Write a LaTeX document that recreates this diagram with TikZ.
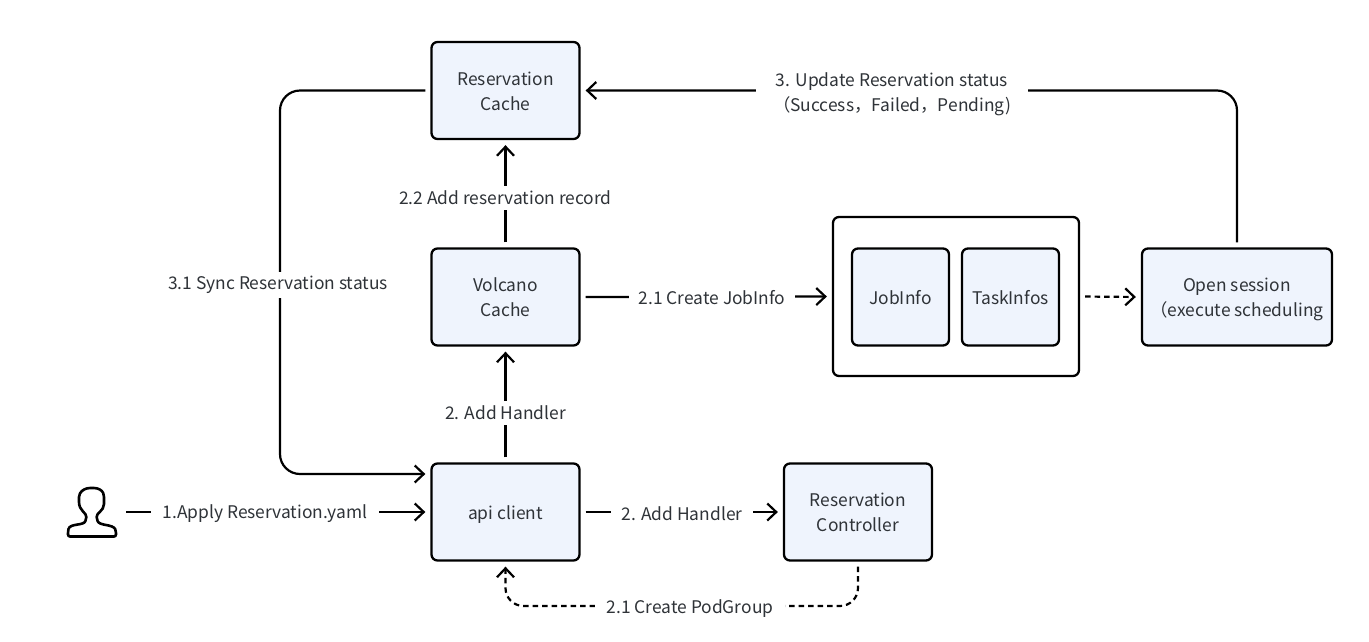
\documentclass[tikz,border=0pt]{standalone}
\usepackage{fontspec}
\setmainfont{Noto Sans CJK SC}
\usetikzlibrary{arrows.meta}
\definecolor{boxfill}{HTML}{EFF4FD}
\definecolor{txt}{HTML}{2F3338}
\tikzset{
  base/.style={font=\fontsize{17.4}{25}\selectfont,text=txt,align=center},
  box/.style={base,draw=black,line width=2.3pt,fill=boxfill,rounded corners=6pt,minimum width=148pt,minimum height=97pt,inner sep=0pt,text height=18pt,text depth=4pt},
  twoline/.style={text height=43pt,text depth=4pt},
  smallbox/.style={box,minimum width=97pt},
  outerbox/.style={draw=black,line width=2.3pt,fill=white,rounded corners=6pt,minimum width=246pt,minimum height=159pt,inner sep=0pt},
  conn/.style={draw=black,line width=2.2pt,shorten >=5pt,shorten <=5pt,-{Straight Barb[length=9pt,width=17pt,line width=2.2pt]}},
  dashline/.style={dash pattern=on 5.5pt off 4pt},
  lab/.style={base,fill=white,inner xsep=12pt,inner ysep=2pt},
}
\begin{document}
\begin{tikzpicture}[x=1pt,y=-1pt]
\useasboundingbox (0,0) rectangle (1369,641);
\node[box,twoline] (rc) at (505.5,90.5) {Reservation\\Cache};
\node[box,twoline] (vc) at (505.5,297) {Volcano\\Cache};
\node[box] (api) at (505.5,512) {api client};
\node[box,twoline] (ctrl) at (858,512) {Reservation\\Controller};
\node[outerbox] (job) at (956,296.5) {};
\node[smallbox] (ji) at (900.5,297) {JobInfo};
\node[smallbox] (ti) at (1010.5,297) {TaskInfos};
\node[box,twoline,minimum width=190pt] (os) at (1237,297) {Open session\\（execute scheduling};
\coordinate (user) at (121,512);
\coordinate (lx) at (280,0);
\coordinate (bot) at (0,606);
\coordinate (apin) at ([yshift=38pt]api.west);
% user icon
\draw[black,line width=2.6pt,line join=round,rounded corners=2pt]
  (68,536.5) -- (68,531) .. controls (70,523) and (84,526) .. (86,519)
  .. controls (87,513) and (79,511) .. (79,500) -- (79,495)
  .. controls (82,490) and (86,488) .. (92,488) .. controls (98,488) and (102,490) .. (104,495)
  -- (104,502) .. controls (104,511) and (96,513) .. (97,519)
  .. controls (99,526) and (113,524) .. (116,531) -- (116,536.5) -- cycle;
% connectors
\path[conn] (user) -- (api.west);
\path[conn] (api.north) -- (vc.south);
\path[conn] (vc.north) -- (rc.south);
\path[conn] (vc.east) -- (job.west);
\path[conn,dashline] (job.east) -- (os.west);
\path[conn] (api.east) -- (ctrl.west);
\path[conn,rounded corners=20pt] (os.north) -- (os.north |- rc.east) -- (rc.east);
\path[conn,rounded corners=20pt] (rc.west) -- (lx |- rc.west) -- (lx |- apin) -- (apin);
\path[conn,dashline,rounded corners=18pt] (ctrl.south) -- (ctrl.south |- bot) -- (api.south |- bot) -- (api.south);
% labels
\node[lab] (l1) at (265,514) {1.Apply Reservation.yaml};
\node[lab,inner xsep=6pt,inner ysep=5pt] (l2) at (505.5,413) {2. Add Handler};
\node[lab,inner xsep=6pt,inner ysep=5pt] (l3) at (505.5,198) {2.2 Add reservation record};
\node[lab,inner xsep=10pt] (l4) at (712,298) {2.1 Create JobInfo};
\node[lab,inner xsep=11pt] (l5) at (682,514) {2. Add Handler};
\node[lab,inner xsep=17pt,inner ysep=4pt] (l6) at (892,94) {3. Update Reservation status\\（Success，Failed，Pending)};
\node[lab,inner xsep=2pt,inner ysep=4pt] (l7) at (278,285) {3.1 Sync Reservation status};
\node[lab,inner xsep=12pt,inner ysep=4pt] (l8) at (690,609) {2.1 Create PodGroup};
\end{tikzpicture}
\end{document}
